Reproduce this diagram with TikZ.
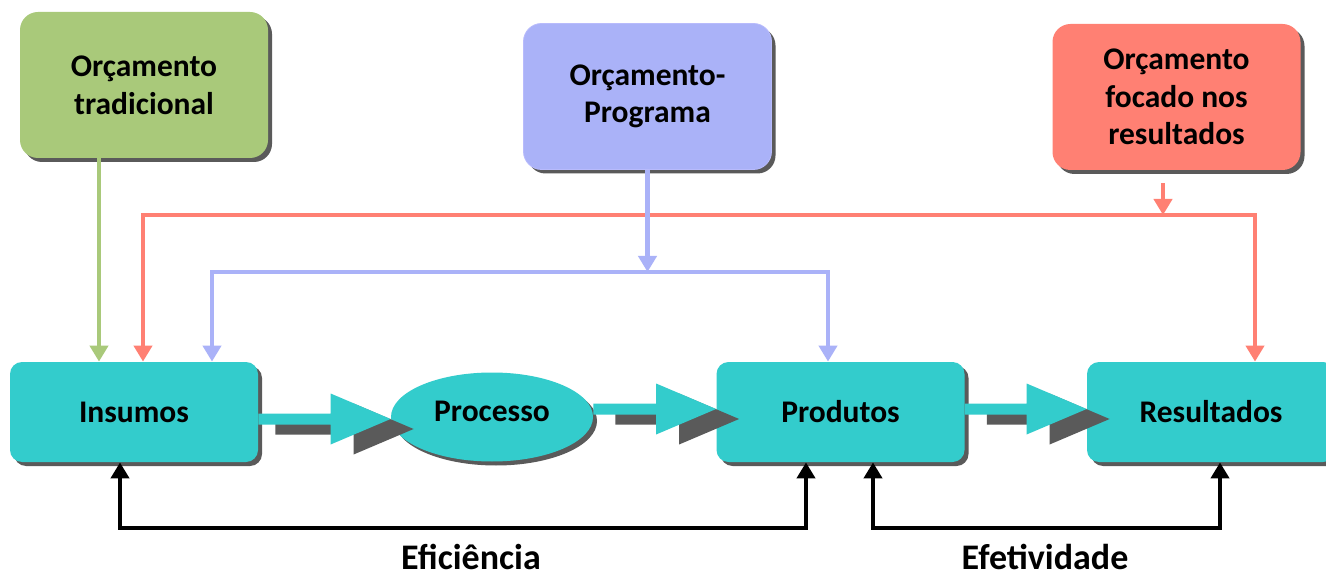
\documentclass[tikz,border=0pt]{standalone}
\usepackage{fontspec}
\setmainfont{Carlito}
\usetikzlibrary{shapes.geometric,shadows,calc,arrows.meta}
\definecolor{cgreen}{RGB}{169,201,122}
\definecolor{cblue}{RGB}{170,178,248}
\definecolor{cred}{RGB}{255,128,115}
\definecolor{cteal}{RGB}{51,204,204}
\definecolor{cshadow}{RGB}{90,90,90}
\tikzset{
  boxfont/.style={font=\fontsize{15.75}{18.8}\selectfont\bfseries},
  shad/.style={drop shadow={shadow xshift=2pt,shadow yshift=-2pt,fill=cshadow,opacity=1}},
  topbox/.style={draw=none,rounded corners=9pt,minimum width=124pt,minimum height=73pt,align=center,boxfont,shad,text=black},
  flowbox/.style={rectangle,draw=none,fill=cteal,rounded corners=6pt,minimum width=124pt,minimum height=50pt,boxfont,shad},
  conn/.style={line width=2.3pt,-{Triangle[length=8pt,width=9pt]}},
  garr/.style={conn,draw=cgreen},
  rarr/.style={conn,draw=cred},
  barr/.style={conn,draw=cblue},
  karr/.style={conn,draw=black},
  bottomlabel/.style={font=\fontsize{18}{20}\selectfont\bfseries,anchor=base}
}
\newcommand\blockarr[3]{%
  \fill[#3] ($(#1)+(0,-5.5)$) -- ($(#2)+(-60,-5.5)$) -- ($(#2)+(-60,-25.5)$) -- (#2)
    -- ($(#2)+(-60,25.5)$) -- ($(#2)+(-60,5.5)$) -- ($(#1)+(0,5.5)$) -- cycle;}
\begin{document}
\begin{tikzpicture}[x=0.5pt,y=-0.5pt]
\clip (0,0) rectangle (1326,571);
\fill[white] (0,0) rectangle (1326,571);
% top boxes
\node[topbox,fill=cgreen] (orc1) at (144,85) {Orçamento\\tradicional};
\node[topbox,fill=cblue,draw=cblue!80!blue!60] (orc2) at (647.5,96.5) {Orçamento-\\Programa};
\node[topbox,fill=cred] (orc3) at (1176.5,97) {Orçamento\\focado nos\\resultados};
% flow nodes
\node[flowbox] (ins) at (134,412) {Insumos};
\node[ellipse,fill=cteal,minimum width=101pt,minimum height=44.5pt,shad,inner sep=0pt] (proc) at (492,417) {};
\node[boxfont] (proct) at (492,411) {Processo};
\node[flowbox] (prod) at (840.5,412) {Produtos};
\node[flowbox] (res) at (1211,412) {Resultados};
% block arrows
\coordinate (a1s) at ($(ins.east)+(0,7)$);
\coordinate (a1t) at ($(proc.west)+(0,2)$);
\coordinate (a2s) at ($(proc.east)+(0,-8)$);
\coordinate (a2t) at ($(prod.west)+(0,-3)$);
\coordinate (a3s) at ($(prod.east)+(0,-3)$);
\coordinate (a3t) at ($(res.west)+(0,-3)$);
\coordinate (s1s) at ($(a1s)+(17,10)$);
\coordinate (s1t) at ($(a1t)+(23,10)$);
\coordinate (s2s) at ($(a2s)+(22,10)$);
\coordinate (s2t) at ($(a2t)+(23,10)$);
\coordinate (s3s) at ($(a3s)+(22,10)$);
\coordinate (s3t) at ($(a3t)+(23,10)$);
\blockarr{s1s}{s1t}{cshadow}
\blockarr{s2s}{s2t}{cshadow}
\blockarr{s3s}{s3t}{cshadow}
\blockarr{a1s}{a1t}{cteal}
\blockarr{a2s}{a2t}{cteal}
\blockarr{a3s}{a3t}{cteal}
% green connector
\draw[garr] ($(orc1.south)+(-45,0)$) coordinate (g1) -- (g1 |- ins.north);
% red connectors
\coordinate (rL) at (143,215);
\coordinate (rR) at (1255,215);
\coordinate (rT) at (1163,215);
\draw[rarr] ($(orc3.south)+(-13.5,13)$) -- (rT);
\draw[rarr] (rR) -- (rL) -- (rL |- ins.north);
\draw[rarr] (rL) -- (rR) -- (rR |- res.north);
% blue connectors
\coordinate (bL) at (212,272);
\coordinate (bR) at (828,272);
\draw[barr] (orc2.south) -- (orc2.south |- bL);
\draw[barr] (bR) -- (bL) -- (bL |- ins.north);
\draw[barr] (bL) -- (bR) -- (bR |- prod.north);
% black feedback
\coordinate (e1) at (120,528);
\coordinate (e2) at (806,528);
\draw[karr] (e2) -- (e1) -- (e1 |- ins.south);
\draw[karr] (e1) -- (e2) -- (e2 |- prod.south);
\coordinate (f1) at (873,528);
\coordinate (f2) at (1220,528);
\draw[karr] (f2) -- (f1) -- (f1 |- prod.south);
\draw[karr] (f1) -- (f2) -- (f2 |- res.south);
% labels
\node[bottomlabel] (lef) at (471,569) {Eficiência};
\node[bottomlabel] (let) at (1045,569) {Efetividade};
\end{tikzpicture}
\end{document}
